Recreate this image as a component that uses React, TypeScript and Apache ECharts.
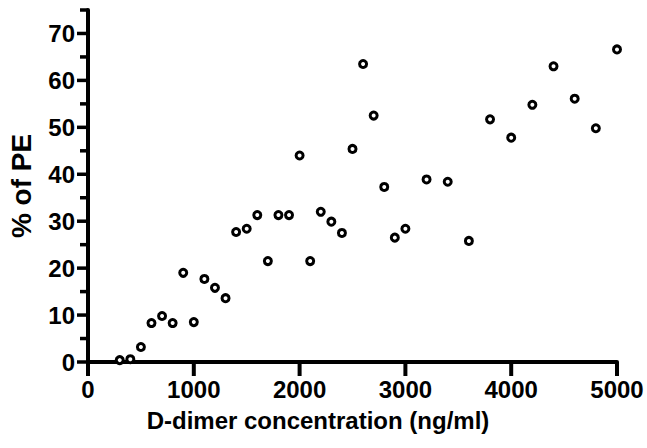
import React, { useEffect, useRef } from "react";
import * as echarts from "echarts";

const dDimer = [300, 400, 500, 600, 700, 800, 900, 1000, 1100, 1200, 1300, 1400, 1500, 1600, 1700, 1800, 1900, 2000, 2100, 2200, 2300, 2400, 2500, 2600, 2700, 2800, 2900, 3000, 3200, 3400, 3600, 3800, 4000, 4200, 4400, 4600, 4800, 5000];
const pctPE = [0.4, 0.6, 3.2, 8.3, 9.8, 8.3, 19, 8.5, 17.7, 15.8, 13.6, 27.7, 28.4, 31.3, 21.5, 31.3, 31.3, 44, 21.5, 32, 29.9, 27.5, 45.4, 63.5, 52.5, 37.3, 26.5, 28.4, 38.9, 38.4, 25.8, 51.7, 47.8, 54.8, 63.0, 56.1, 49.8, 66.6];
const xTickValues = [0, 1000, 2000, 3000, 4000, 5000];
const yTickValues = [0, 10, 20, 30, 40, 50, 60, 70];
const yMinorTickValues = [5, 15, 25, 35, 45, 55, 65, 75];
const xMax = 5000;
const xStep = 1000;
const yMax = 75;
const yStep = 10;
const yLabelMax = 70;

export default function App() {
  const ref = useRef<HTMLDivElement>(null);
  useEffect(() => {
    document.body.style.margin = "0";
    const chart = echarts.init(ref.current!, null, { renderer: "svg" });
    const font = "'Liberation Sans', Arial, sans-serif";
    const tickSeries = (data: number[][], size: number[], offset: number[]) => ({
      type: "scatter",
      silent: true,
      clip: false,
      z: 3,
      data,
      symbol: "rect",
      symbolSize: size,
      symbolOffset: offset,
      itemStyle: { color: "#000", opacity: 1 },
      emphasis: { disabled: true },
    });
    chart.setOption({
      animation: false,
      textStyle: { color: "#000" },
      grid: { left: 88, right: 30, top: 10, bottom: 86, outerBoundsMode: "none", containLabel: false },
      xAxis: {
        type: "value",
        min: 0,
        max: xMax,
        interval: xStep,
        splitLine: { show: false },
        axisLine: { onZero: false, lineStyle: { color: "#000", width: 4, cap: "round" } },
        axisTick: { show: false },
        axisLabel: {
          show: true,
          fontFamily: font,
          fontWeight: "bold",
          fontSize: 24,
          color: "#000",
          margin: 15,
          showMinLabel: true,
          showMaxLabel: true,
          formatter: (v: number) => String(v),
        },
      },
      yAxis: {
        type: "value",
        min: 0,
        max: yMax,
        interval: yStep,
        name: "% of PE",
        nameLocation: "middle",
        nameGap: 53,
        nameTextStyle: { fontFamily: font, fontWeight: "bold", fontSize: 28, color: "#000" },
        splitLine: { show: false },
        axisLine: { onZero: false, lineStyle: { color: "#000", width: 4, cap: "round" } },
        axisTick: { show: false },
        axisLabel: {
          show: true,
          fontFamily: font,
          fontWeight: "bold",
          fontSize: 24,
          color: "#000",
          margin: 13,
          showMinLabel: true,
          formatter: (v: number) => (v > yLabelMax ? "" : String(v)),
        },
      },
      graphic: [
        {
          type: "text",
          x: 318,
          y: 420,
          style: {
            text: "D-dimer concentration (ng/ml)",
            fontFamily: font,
            fontWeight: "bold",
            fontSize: 24,
            fill: "#000",
            textAlign: "center",
            textVerticalAlign: "middle",
          },
        },
      ],
      series: [
        tickSeries(xTickValues.map((v) => [v, 0]), [4, 14], [0, 7]),
        tickSeries(yTickValues.map((v) => [0, v]), [11, 3.5], [-5.5, 0]),
        tickSeries(yMinorTickValues.map((v) => [0, v]), [8, 3.5], [-4, 0]),
        {
          type: "scatter",
          data: dDimer.map((x, i) => [x, pctPE[i]]),
          symbol: "circle",
          symbolSize: 7,
          z: 4,
          itemStyle: { color: "#fff", borderColor: "#000", borderWidth: 3, opacity: 1 },
        },
      ],
    });
    return () => chart.dispose();
  }, []);
  return <div ref={ref} style={{ width: 647, height: 448 }} />;
}
